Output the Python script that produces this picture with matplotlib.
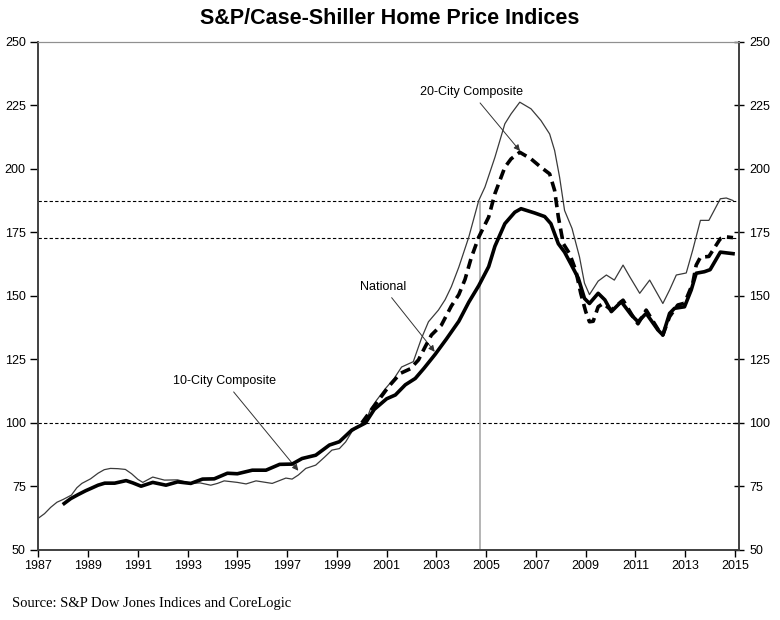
import matplotlib
matplotlib.use("Agg")
import matplotlib.pyplot as plt

plt.rcParams["font.family"] = ["Liberation Sans", "DejaVu Sans"]

# 10-City Composite (thin line)
yr_10 = [1987.0, 1987.25, 1987.5, 1987.75, 1988.0, 1988.33, 1988.55, 1988.75, 1989.1, 1989.4,
         1989.65, 1989.9, 1990.2, 1990.5, 1990.75, 1991.0, 1991.2, 1991.6, 1992.07, 1992.6,
         1992.9, 1993.13, 1993.5, 1993.93, 1994.2, 1994.47, 1995.0, 1995.35, 1995.75, 1996.4,
         1996.95, 1997.2, 1997.45, 1997.75, 1998.15, 1998.5, 1998.8, 1999.1, 1999.35, 1999.6,
         1999.9, 2000.15, 2000.35, 2000.6, 2000.95, 2001.3, 2001.6, 2002.07, 2002.4, 2002.68,
         2003.08, 2003.35, 2003.6, 2003.9, 2004.3, 2004.7, 2004.95, 2005.35, 2005.75, 2006.0,
         2006.35, 2006.8, 2007.2, 2007.55, 2007.75, 2007.95, 2008.15, 2008.45, 2008.75, 2008.95,
         2009.15, 2009.5, 2009.83, 2010.15, 2010.5, 2010.77, 2011.17, 2011.57, 2012.1, 2012.37,
         2012.64, 2013.04, 2013.3, 2013.61, 2013.95, 2014.41, 2014.65, 2014.92]
idx_10 = [62.5, 64.3, 66.8, 68.8, 69.9, 71.6, 74.5, 76.2, 78.0, 80.2,
          81.6, 82.1, 82.0, 81.7, 80.0, 77.8, 76.6, 78.7, 77.5, 77.6,
          76.8, 76.2, 76.4, 75.5, 76.2, 77.2, 76.6, 76.0, 77.2, 76.2,
          78.3, 77.9, 79.5, 82.1, 83.4, 86.5, 89.3, 89.9, 92.5, 96.5,
          98.8, 100.2, 105.5, 109.0, 113.5, 117.5, 122.0, 124.1, 133.3, 139.8,
          144.4, 148.5, 153.6, 161.3, 173.1, 187.5, 192.8, 204.5, 217.7, 221.6,
          226.2, 223.6, 219.0, 213.7, 207.2, 196.7, 183.6, 176.5, 165.3, 155.0,
          150.5, 155.8, 158.2, 156.2, 162.1, 157.5, 151.0, 156.2, 147.0, 152.3,
          158.2, 159.0, 168.0, 179.7, 179.7, 188.2, 188.5, 187.5]

# National (thick solid)
yr_nat = [1988.04, 1988.3, 1988.6, 1988.9, 1989.13, 1989.4, 1989.67, 1990.07, 1990.53, 1990.8,
          1991.13, 1991.6, 1992.13, 1992.6, 1993.13, 1993.6, 1994.07, 1994.6, 1995.0, 1995.6,
          1996.15, 1996.7, 1997.2, 1997.6, 1998.15, 1998.7, 1999.1, 1999.6, 2000.15, 2000.5,
          2001.0, 2001.35, 2001.75, 2002.15, 2002.5, 2002.95, 2003.4, 2003.9, 2004.3, 2004.7,
          2005.1, 2005.35, 2005.75, 2006.15, 2006.4, 2006.95, 2007.35, 2007.6, 2007.9, 2008.15,
          2008.4, 2008.7, 2008.95, 2009.15, 2009.5, 2009.77, 2010.03, 2010.43, 2010.83, 2011.1,
          2011.43, 2011.9, 2012.1, 2012.37, 2012.57, 2012.97, 2013.24, 2013.44, 2013.77, 2014.0,
          2014.41, 2014.92]
idx_nat = [68.3, 70.2, 71.8, 73.3, 74.3, 75.5, 76.3, 76.3, 77.3, 76.4,
           75.1, 76.6, 75.5, 76.8, 76.2, 77.9, 78.0, 80.2, 80.0, 81.4,
           81.4, 83.7, 83.8, 86.0, 87.3, 91.3, 92.6, 97.2, 100.0, 105.3,
           109.5, 111.0, 115.0, 117.5, 121.5, 127.0, 133.0, 140.0, 147.5, 154.0,
           161.5, 169.5, 178.4, 182.9, 184.3, 182.6, 181.2, 178.4, 170.5, 167.2,
           162.6, 157.0, 149.0, 147.0, 151.0, 148.4, 143.8, 147.7, 142.5, 139.8,
           143.1, 136.6, 134.6, 143.1, 145.1, 145.7, 152.3, 158.9, 159.5, 160.3,
           167.2, 166.6]

# 20-City Composite (dashed)
yr_20 = [2000.0, 2000.3, 2000.68, 2001.08, 2001.55, 2001.95, 2002.28, 2002.55, 2002.8, 2003.2,
         2003.6, 2003.9, 2004.15, 2004.4, 2004.7, 2005.1, 2005.35, 2005.75, 2006.0, 2006.35,
         2006.8, 2007.2, 2007.55, 2007.75, 2007.9, 2008.1, 2008.35, 2008.6, 2008.8, 2009.0,
         2009.15, 2009.3, 2009.5, 2009.7, 2010.03, 2010.5, 2010.9, 2011.1, 2011.43, 2012.0,
         2012.1, 2012.37, 2012.7, 2012.97, 2013.3, 2013.44, 2013.61, 2013.95, 2014.41, 2014.65,
         2014.92]
idx_20 = [100.0, 104.0, 109.0, 114.3, 119.5, 121.3, 124.8, 130.0, 134.6, 138.5,
          146.0, 150.5, 156.5, 165.0, 173.1, 181.0, 190.2, 200.6, 203.9, 206.5,
          203.9, 200.6, 198.0, 191.5, 181.0, 170.5, 166.6, 160.0, 151.0, 143.8,
          139.8, 140.0, 145.7, 147.0, 144.4, 148.3, 141.8, 139.0, 144.4, 135.3,
          134.6, 141.8, 146.4, 147.1, 154.9, 162.1, 165.2, 165.5, 172.5, 173.2,
          172.9]

year_ticks = list(range(1987, 2016, 2))
value_ticks = [50, 75, 100, 125, 150, 175, 200, 225, 250]
marker_year = 2004.75

fig = plt.figure(figsize=(7.8, 6.2), dpi=100)
ax = fig.add_axes([38.3 / 780, 1 - 550 / 620, (739 - 38.3) / 780, (550 - 41.7) / 620])

# reference lines
ax.axhline(100, color="black", lw=0.8, ls=(0, (3, 2)), zorder=1)
ax.axhline(idx_10[-1], color="black", lw=0.8, ls=(0, (3, 2)), zorder=1)
ax.axhline(idx_20[-1], color="black", lw=0.8, ls=(0, (3, 2)), zorder=1)
ax.vlines(marker_year, 50, idx_10[-1], color="#a8a8a8", lw=1.2, zorder=1)

ax.plot(yr_10, idx_10, color="#3a3a3a", lw=0.9, zorder=3)
ax.plot(yr_nat, idx_nat, color="black", lw=2.6, zorder=4)
ax.plot(yr_20, idx_20, color="black", lw=2.6, ls=(0, (2.8, 1.6)), zorder=5)

arrow = dict(arrowstyle="-|>", color="#333333", lw=0.7, mutation_scale=9, shrinkA=2, shrinkB=0)
ax.annotate("20-City Composite", xy=(2006.36, 207), xytext=(2004.39, 230.2),
            ha="center", va="center", fontsize=9, arrowprops=arrow)
ax.annotate("National", xy=(2002.93, 128.0), xytext=(2000.85, 153.6),
            ha="center", va="center", fontsize=9, arrowprops=arrow)
ax.annotate("10-City Composite", xy=(1997.45, 81.2), xytext=(1994.49, 116.5),
            ha="center", va="center", fontsize=9, arrowprops=arrow)

ax.set_xlim(1987, 2015.16)
ax.set_ylim(50, 250)
ax.set_xticks(year_ticks)
ax.set_yticks(value_ticks)
ax.tick_params(axis="x", direction="out", length=5, width=1, pad=2, labelsize=9)
ax.tick_params(axis="y", direction="out", length=6, width=1, pad=3, labelsize=9)

ax2 = ax.twinx()
ax2.set_ylim(50, 250)
ax2.set_yticks(value_ticks)
ax2.tick_params(axis="y", direction="inout", length=7, width=1, pad=4, labelsize=9)

for a in (ax, ax2):
    for side in ("left", "right", "bottom"):
        a.spines[side].set_color("#404040")
        a.spines[side].set_linewidth(1.2)
    a.spines["top"].set_color("#909090")
    a.spines["top"].set_linewidth(0.8)

fig.text(0.5, 1 - 18 / 620, "S&P/Case-Shiller Home Price Indices", ha="center", va="center",
         fontsize=15.5, fontweight="bold")
fig.text(12 / 780, 1 - 603 / 620, "Source: S&P Dow Jones Indices and CoreLogic", ha="left",
         va="center", fontsize=10.5, family=["Liberation Serif", "DejaVu Serif"])

fig.savefig("out.png", dpi=100)
